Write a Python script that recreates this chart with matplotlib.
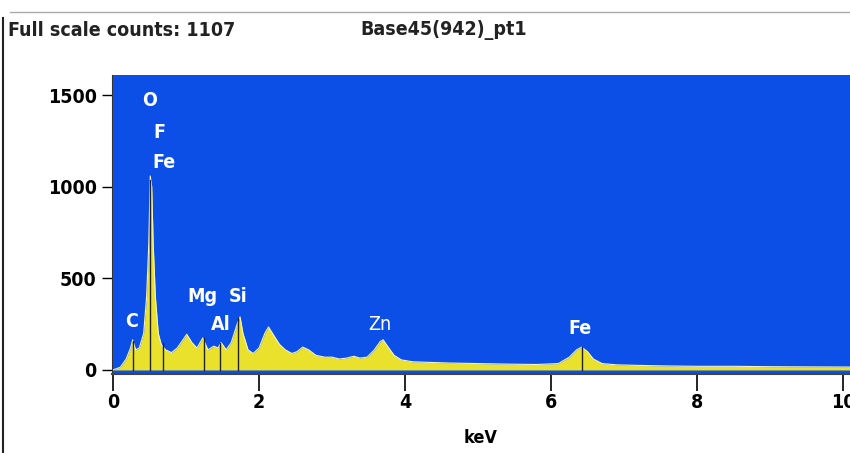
import numpy as np
import matplotlib.pyplot as plt
from matplotlib.lines import Line2D

# spectrum (keV, counts)
energy = [0.00, 0.10, 0.18, 0.24, 0.27, 0.31, 0.36, 0.42, 0.46, 0.49,
          0.51, 0.53, 0.55, 0.58, 0.62, 0.66, 0.72, 0.80, 0.88, 0.95,
          1.01, 1.08, 1.15, 1.23, 1.30, 1.38, 1.44, 1.48, 1.55, 1.62,
          1.70, 1.74, 1.78, 1.85, 1.92, 2.00, 2.08, 2.13, 2.20, 2.28,
          2.36, 2.45, 2.52, 2.60, 2.68, 2.78, 2.90, 3.00, 3.10, 3.20,
          3.30, 3.38, 3.48, 3.58, 3.66, 3.70, 3.76, 3.85, 3.95, 4.10,
          4.30, 4.60, 5.00, 5.40, 5.80, 6.10, 6.25, 6.35, 6.42, 6.50,
          6.58, 6.70, 6.90, 7.20, 7.60, 8.00, 8.50, 9.00, 9.50, 10.10]
counts = [0, 15, 60, 120, 165, 110, 120, 200, 400, 690,
          1060, 1000, 690, 400, 200, 140, 110, 95, 120, 160,
          195, 150, 120, 175, 110, 130, 120, 150, 110, 150,
          250, 290, 200, 110, 90, 120, 200, 235, 190, 140,
          110, 90, 100, 125, 110, 80, 70, 70, 60, 65,
          75, 65, 70, 110, 155, 165, 130, 80, 55, 45,
          42, 38, 35, 32, 30, 35, 70, 110, 125, 100,
          60, 35, 28, 25, 22, 20, 20, 18, 17, 16]

# element marker lines
marker_kev = [0.27, 0.51, 0.68, 1.25, 1.47, 1.71, 6.42]
marker_top = [160, 1040, 150, 175, 150, 285, 125]

# element labels
lab_text = ['O', 'F', 'Fe', 'C', 'Mg', 'Si', 'Al', 'Zn', 'Fe']
lab_kev = [0.50, 0.63, 0.70, 0.25, 1.22, 1.71, 1.47, 3.65, 6.40]
lab_cnt = [1470, 1300, 1135, 265, 400, 400, 250, 250, 225]
lab_bold = [True, True, True, True, True, True, True, False, True]

xticks = [0, 2, 4, 6, 8, 10]
yticks = [0, 500, 1000, 1500]

plt.rcParams['font.family'] = ['DejaVu Sans']
st = 'condensed'

fig = plt.figure(figsize=(8.5, 4.53), dpi=100)
ax = fig.add_axes([112 / 850, 1 - 374 / 453, 738 / 850, 299 / 453])
ax.set_facecolor('#0b4fe6')

ax.fill_between(energy, counts, 0, color='#e9e12c', lw=0)
ax.plot(energy, counts, color='#f6f3c0', lw=0.8)
for k, h in zip(marker_kev, marker_top):
    ax.plot([k, k], [0, h], color='#222222', lw=1)

for t, k, c, b in zip(lab_text, lab_kev, lab_cnt, lab_bold):
    ax.text(k, c, t, color='white', fontsize=14, fontstretch=st,
            fontweight='bold' if b else 'normal', ha='center', va='center')

ax.set_xlim(-0.014, 10.096)
ax.set_ylim(-22, 1612)
ax.set_xticks(xticks)
ax.set_xticklabels([str(v) for v in xticks])
ax.set_yticks(yticks)
ax.set_yticklabels([str(v) for v in yticks])
ax.tick_params(axis='x', length=12, width=1.2, pad=2, labelsize=14)
ax.tick_params(axis='y', length=7, width=1, pad=4, labelsize=14)
for lbl in ax.get_xticklabels() + ax.get_yticklabels():
    lbl.set_fontweight('bold')
    lbl.set_fontstretch(st)
ax.spines['top'].set_visible(False)
ax.spines['right'].set_visible(False)
ax.spines['left'].set_color('#333333')
ax.spines['bottom'].set_color('#444444')
ax.spines['bottom'].set_linewidth(1.5)

ax.set_xlabel('keV', fontsize=13, fontweight='bold', fontstretch=st,
              labelpad=12)

fig.text(8 / 850, 1 - 30 / 453, 'Full scale counts: 1107', fontsize=14,
         fontweight='bold', fontstretch=st, va='center', color='#222222')
fig.text(360 / 850, 1 - 30 / 453, 'Base45(942)_pt1', fontsize=14,
         fontweight='bold', fontstretch=st, va='center', color='#222222')

fig.add_artist(Line2D([3 / 850, 3 / 850], [0, 1 - 18 / 453],
                      color='#222222', lw=1.5))
fig.add_artist(Line2D([10 / 850, 1], [1 - 12 / 453, 1 - 12 / 453],
                      color='#aaaaaa', lw=1))

fig.savefig('out.png', dpi=100)
